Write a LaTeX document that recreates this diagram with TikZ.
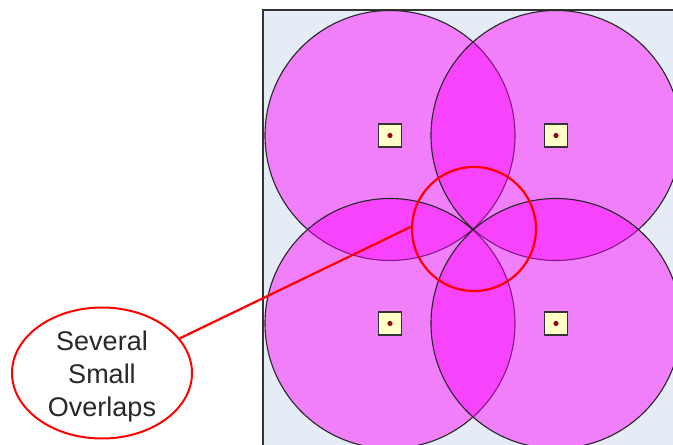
\documentclass[tikz,border=0pt]{standalone}
\usepackage{fontspec}
\setmainfont{Liberation Sans}
\usepackage{xcolor}
\usepackage{tikz}
\usetikzlibrary{shapes.geometric, positioning}
\definecolor{areafill}{RGB}{230,236,246}
\definecolor{areaedge}{RGB}{50,50,50}
\definecolor{zonefill}{RGB}{255,0,255}
\definecolor{sensorfill}{RGB}{255,255,200}
\definecolor{sensordot}{RGB}{150,0,20}
\definecolor{notered}{RGB}{255,0,0}
\definecolor{notetext}{RGB}{40,40,40}

\begin{document}
\begin{tikzpicture}[
    x=1pt, y=1pt,
    zone/.style={circle, draw=black!85, line width=1.1pt, fill=zonefill, fill opacity=0.46, draw opacity=1, minimum size=250pt, inner sep=0pt},
    sensor/.style={draw=black!80, line width=1.2pt, fill=sensorfill, minimum size=23pt, inner sep=0pt},
    focus/.style={circle, draw=notered, line width=2.2pt, minimum size=124pt, inner sep=0pt},
    note/.style={ellipse, draw=notered, line width=2pt, fill=white, minimum width=180pt, minimum height=131pt, inner sep=0pt},
    notelabel/.style={align=center, text=notetext, font=\fontsize{27}{33}\selectfont},
    callout/.style={notered, line width=2.2pt}
]
    \useasboundingbox (0,0) rectangle (673,445);
    \clip (0,0) rectangle (673,445);

    % Coverage area
    \draw[areaedge, line width=2pt, fill=areafill] (263,435) rectangle (700,-20);

    % Coverage circles
    \node[zone] (zoneA) at (390,309.5) {};
    \node[zone] (zoneB) at (556,309.5) {};
    \node[zone] (zoneC) at (390,121.5) {};
    \node[zone] (zoneD) at (556,121.5) {};

    % Sensors
    \node[sensor] (sensorA) at (zoneA) {};
    \node[sensor] (sensorB) at (zoneB) {};
    \node[sensor] (sensorC) at (zoneC) {};
    \node[sensor] (sensorD) at (zoneD) {};
    \fill[sensordot] (sensorA) circle (2.6);
    \fill[sensordot] (sensorB) circle (2.6);
    \fill[sensordot] (sensorC) circle (2.6);
    \fill[sensordot] (sensorD) circle (2.6);

    % Highlight and note
    \node[focus] (overlap) at (474,216) {};
    \node[note] (remark) at (102,72) {};
    \node[notelabel] (remarktext) at (102,68) {Several\\Small\\Overlaps};
    \draw[callout] (remark.24) -- (overlap.178);
\end{tikzpicture}
\end{document}
